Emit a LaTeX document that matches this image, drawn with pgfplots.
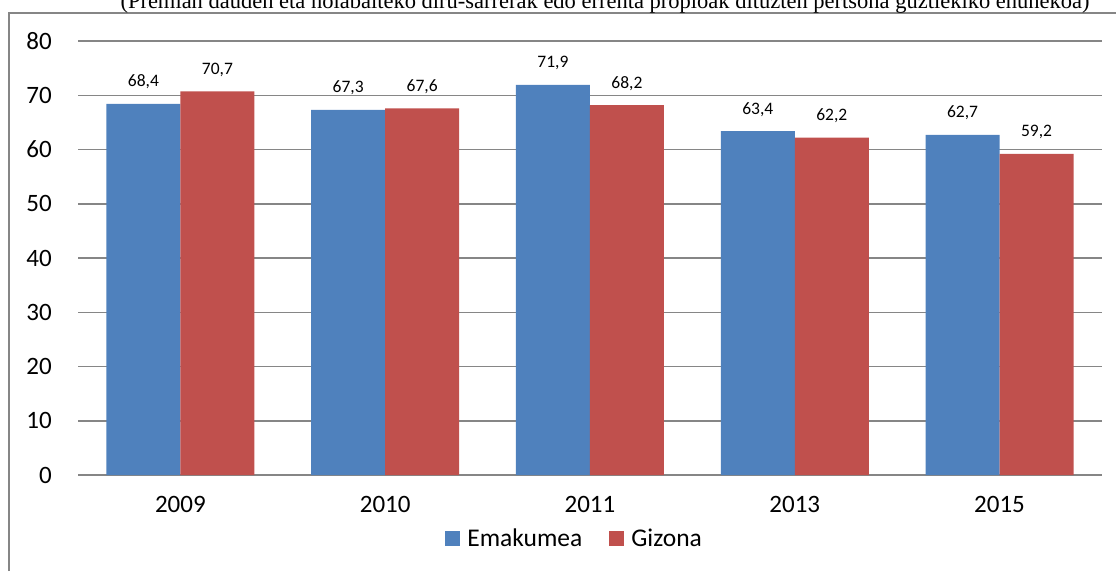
\documentclass[border=0pt]{standalone}
\usepackage{fontspec}
\setmainfont{Carlito}
\newfontfamily\titlefont{Liberation Serif}
\usepackage{pgfplots}
\pgfplotsset{compat=1.18}
\definecolor{cblue}{HTML}{4F81BD}
\definecolor{cred}{HTML}{C0504D}
\definecolor{gridg}{HTML}{868686}
\begin{document}
\begin{tikzpicture}
\clip (0pt,0pt) rectangle (1116pt,571pt);
\useasboundingbox (0pt,0pt) rectangle (1116pt,571pt);
\draw[gridg, line width=1.5pt] (9pt,0pt) -- (9pt,558pt) -- (1116pt,558pt);
\node[font=\titlefont\fontsize{22.5}{26}\selectfont, anchor=base, inner sep=0pt] at (605pt,562pt) {(Premian dauden eta nolabaiteko diru-sarrerak edo errenta propioak dituzten pertsona guztiekiko ehunekoa)};
\begin{axis}[
  at={(78pt,96pt)}, anchor=south west,
  scale only axis, width=1024pt, height=434pt,
  xmin=-0.5, xmax=4.5, ymin=0, ymax=80,
  ybar, bar width=74pt,
  axis line style={draw=none},
  ymajorgrids, grid style={gridg, line width=1.5pt},
  ytick={0,10,...,80},
  xtick={0,1,2,3,4},
  xticklabels={2009,2010,2011,2013,2015},
  major tick length=0pt,
  tick style={draw=none},
  /pgf/number format/assume math mode=true,
  ticklabel style={font=\fontsize{25}{28}\selectfont},
  yticklabel style={anchor=east, inner sep=0pt, xshift=-26pt},
  xticklabel style={anchor=base, inner sep=0pt, yshift=-37pt},
  nodes near coords,
  nodes near coords style={font=\fontsize{17.5}{20}\selectfont, anchor=base, inner sep=0pt, yshift=17pt, /pgf/number format/.cd, use comma, fixed, fixed zerofill, precision=1, assume math mode=true},
  legend columns=2,
  legend style={at={(0.485,-0.147)}, anchor=center, draw=none, fill=none,
    font=\fontsize{25.5}{28}\selectfont, inner sep=0pt,
    /tikz/every odd column/.append style={column sep=5pt},
    /tikz/every even column/.append style={column sep=25pt}},
  legend cell align=left,
  clip=false,
]
\addplot[fill=cblue, draw=none, bar shift=-37pt,
  legend image code/.code={\fill[cblue] (0pt,-7.5pt) rectangle (15pt,7.5pt);}]
  coordinates {(0,68.4) (1,67.3) (2,71.9) (3,63.4) (4,62.7)};
\addplot[fill=cred, draw=none, bar shift=37pt,
  legend image code/.code={\fill[cred] (0pt,-7.5pt) rectangle (15pt,7.5pt);}]
  coordinates {(0,70.7) (1,67.6) (2,68.2) (3,62.2) (4,59.2)};
\legend{Emakumea,Gizona}
\end{axis}
\end{tikzpicture}
\end{document}
